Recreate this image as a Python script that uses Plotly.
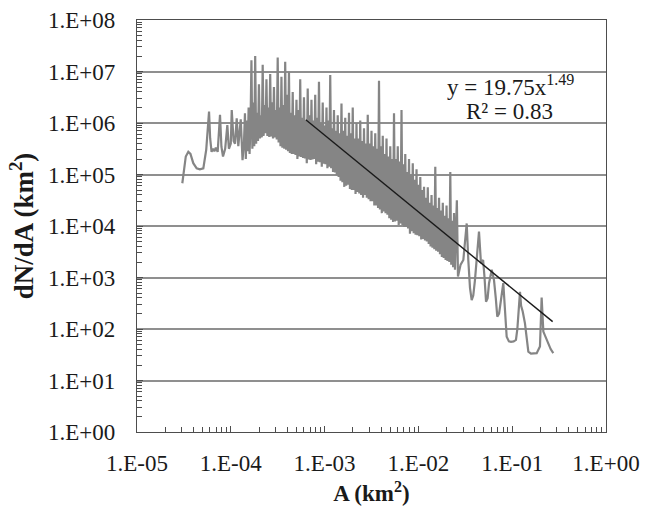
import plotly.graph_objects as go

# Values, stored as log10 exponents
log_A = [
    -4.517, -4.50, -4.48, -4.453, -4.43, -4.40, -4.364, -4.33, -4.293, -4.262,
    -4.232, -4.22, -4.205, -4.19, -4.175, -4.16, -4.14, -4.115, -4.10, -4.083,
    -4.06, -4.037, -4.02, -4.00, -3.99, -3.97, -3.955, -3.937, -3.92, -3.894,
    -3.875, -3.86, -3.849,
    -3.84, -3.83, -3.82, -3.81, -3.80, -3.79, -3.78, -3.77, -3.76, -3.75,
    -3.74, -3.73, -3.72, -3.71, -3.70, -3.69, -3.68, -3.67, -3.66, -3.65,
    -3.64, -3.63, -3.62, -3.61, -3.60, -3.59, -3.58, -3.57, -3.56, -3.55,
    -3.54, -3.53, -3.52, -3.51, -3.50, -3.49, -3.48, -3.47, -3.46, -3.45,
    -3.44, -3.43, -3.42, -3.41, -3.40, -3.39, -3.38, -3.37, -3.36, -3.35,
    -3.34, -3.33, -3.32, -3.31, -3.30, -3.29, -3.28, -3.27, -3.26, -3.25,
    -3.24, -3.23, -3.22, -3.21, -3.20, -3.19, -3.18, -3.17, -3.16, -3.15,
    -3.14, -3.13, -3.12, -3.11, -3.10, -3.09, -3.08, -3.07, -3.06, -3.05,
    -3.04, -3.03, -3.02, -3.01, -3.00, -2.99, -2.98, -2.97, -2.96, -2.95,
    -2.94, -2.93, -2.92, -2.91, -2.90, -2.89, -2.88, -2.87, -2.86, -2.85,
    -2.84, -2.83, -2.82, -2.81, -2.80, -2.79, -2.78, -2.77, -2.76, -2.75,
    -2.74, -2.73, -2.72, -2.71, -2.70, -2.69, -2.68, -2.67, -2.66, -2.65,
    -2.64, -2.63, -2.62, -2.61, -2.60, -2.59, -2.58, -2.57, -2.56, -2.55,
    -2.54, -2.53, -2.52, -2.51, -2.50, -2.49, -2.48, -2.47, -2.46, -2.45,
    -2.44, -2.43, -2.42, -2.41, -2.40, -2.39, -2.38, -2.37, -2.36, -2.35,
    -2.34, -2.33, -2.32, -2.31, -2.30, -2.29, -2.28, -2.27, -2.26, -2.25,
    -2.24, -2.23, -2.22, -2.21, -2.20, -2.19, -2.18, -2.17, -2.16, -2.15,
    -2.14, -2.13, -2.12, -2.11, -2.10, -2.09, -2.08, -2.07, -2.06, -2.05,
    -2.04, -2.03, -2.02, -2.01, -2.00, -1.99, -1.98, -1.97, -1.96, -1.95,
    -1.94, -1.93, -1.92, -1.91, -1.90, -1.89, -1.88, -1.87, -1.86, -1.85,
    -1.84, -1.83, -1.82, -1.81, -1.80, -1.79, -1.78, -1.77, -1.76, -1.75,
    -1.74, -1.73, -1.72, -1.71, -1.70, -1.69, -1.68, -1.67, -1.66, -1.65,
    -1.64, -1.63, -1.62, -1.61, -1.60, -1.59, -1.578,
    -1.55, -1.521, -1.485, -1.468, -1.45, -1.432, -1.415, -1.397, -1.378, -1.354,
    -1.333, -1.31, -1.295, -1.279, -1.262, -1.247, -1.218, -1.194, -1.175, -1.159,
    -1.14, -1.123, -1.095, -1.077, -1.059, -1.035, -1.013, -0.985, -0.960, -0.945,
    -0.935, -0.917, -0.905, -0.888, -0.864, -0.845, -0.828, -0.80, -0.77, -0.739,
    -0.704, -0.686, -0.668, -0.632, -0.590, -0.562,
]

log_dNdA = [
    4.83, 5.10, 5.35, 5.44, 5.40, 5.22, 5.12, 5.10, 5.12, 5.48,
    6.22, 5.70, 5.44, 5.50, 5.45, 5.52, 5.44, 6.16, 5.54, 5.35,
    5.50, 5.96, 5.50, 5.60, 6.25, 5.65, 5.60, 6.09, 5.55, 6.07,
    5.28, 5.60, 6.19,
    5.30, 6.05, 5.45, 6.30, 5.40, 5.95, 7.22, 5.50, 6.40, 5.55,
    7.30, 5.60, 6.20, 5.65, 6.75, 5.70, 6.15, 5.72, 7.13, 5.75,
    6.35, 5.80, 6.85, 5.75, 6.30, 5.73, 6.95, 5.74, 6.40, 5.70,
    6.70, 5.72, 6.25, 5.68, 7.27, 5.62, 6.30, 5.55, 6.90, 5.52,
    6.35, 5.50, 7.19, 5.48, 6.55, 5.45, 7.00, 5.42, 6.20, 5.40,
    6.60, 5.40, 6.15, 5.38, 6.45, 5.30, 6.25, 5.35, 6.85, 5.34,
    6.10, 5.32, 6.50, 5.31, 6.05, 5.22, 6.67, 5.29, 6.15, 5.28,
    6.45, 5.29, 6.05, 5.30, 6.55, 5.20, 6.10, 5.25, 6.80, 5.24,
    6.00, 5.15, 6.40, 5.21, 5.95, 5.20, 6.30, 5.12, 6.05, 5.15,
    6.93, 5.12, 5.90, 5.05, 6.25, 5.04, 5.85, 4.98, 6.15, 4.95,
    5.80, 4.88, 6.38, 4.85, 5.85, 4.76, 6.10, 4.78, 5.75, 4.80,
    6.20, 4.72, 5.80, 4.70, 6.30, 4.70, 5.70, 4.62, 6.00, 4.66,
    5.70, 4.63, 6.05, 4.60, 5.65, 4.55, 5.90, 4.60, 5.60, 4.55,
    6.16, 4.52, 5.60, 4.48, 5.85, 4.48, 5.55, 4.40, 5.80, 4.40,
    5.50, 4.35, 6.82, 4.32, 5.55, 4.25, 5.75, 4.28, 5.40, 4.25,
    5.70, 4.22, 5.35, 4.15, 5.55, 4.12, 5.30, 4.08, 6.19, 4.09,
    5.30, 4.10, 5.55, 4.02, 5.25, 4.05, 6.25, 4.02, 5.20, 3.98,
    5.40, 3.98, 5.05, 3.95, 5.30, 3.85, 5.00, 3.90, 5.22, 3.86,
    4.90, 3.83, 5.10, 3.82, 4.80, 3.80, 4.95, 3.74, 4.70, 3.75,
    4.76, 3.72, 4.55, 3.70, 4.75, 3.65, 4.45, 3.60, 4.60, 3.58,
    4.40, 3.55, 5.15, 3.52, 4.35, 3.50, 4.55, 3.45, 4.30, 3.40,
    4.45, 3.38, 4.20, 3.34, 4.40, 3.32, 4.15, 3.30, 5.05, 3.25,
    4.10, 3.20, 4.25, 3.15, 3.90, 4.50, 3.02,
    3.25, 3.34, 4.05, 3.34, 2.80, 2.56, 2.65, 2.95, 3.34, 3.89,
    3.28, 3.34, 3.00, 2.53, 2.60, 2.89, 3.15, 2.95, 2.60, 2.24,
    2.30, 2.50, 2.89, 2.37, 1.85, 1.76, 1.75, 1.76, 1.79, 2.00,
    2.24, 2.72, 2.45, 2.34, 2.11, 1.75, 1.56, 1.52, 1.52, 1.53,
    1.66, 2.61, 1.95, 1.79, 1.61, 1.53,
]

# Power-law fit shown on the chart
fit_coef = 19.75
fit_exp = -1.49
fit_A_range = [6.3e-4, 2.7e-1]

x_tick_vals = [1e-5, 1e-4, 1e-3, 1e-2, 1e-1, 1e0]
x_tick_text = ["1.E-05", "1.E-04", "1.E-03", "1.E-02", "1.E-01", "1.E+00"]
y_tick_vals = [1e0, 1e1, 1e2, 1e3, 1e4, 1e5, 1e6, 1e7, 1e8]
y_tick_text = ["1.E+00", "1.E+01", "1.E+02", "1.E+03", "1.E+04",
               "1.E+05", "1.E+06", "1.E+07", "1.E+08"]

A = [10 ** v for v in log_A]
dNdA = [10 ** v for v in log_dNdA]
fit_y = [fit_coef * a ** fit_exp for a in fit_A_range]

FONT = "Liberation Serif, Times New Roman, serif"

fig = go.Figure()
fig.add_trace(go.Scatter(x=A, y=dNdA, mode="lines",
                         line=dict(color="#858585", width=2.2),
                         showlegend=False))
fig.add_trace(go.Scatter(x=fit_A_range, y=fit_y, mode="lines",
                         line=dict(color="#1a1a1a", width=1.4),
                         showlegend=False))

axis_common = dict(
    type="log", showline=True, mirror=True, linecolor="#4d4d4d", linewidth=1.2,
    ticks="inside", ticklen=6, tickcolor="#4d4d4d", tickwidth=1,
    tickfont=dict(family=FONT, size=23, color="#1a1a1a"),
    minor=dict(ticks="inside", ticklen=5, tickcolor="#4d4d4d", tickwidth=1,
               dtick="D1", showgrid=False),
    zeroline=False,
)

fig.update_xaxes(**axis_common, range=[-5, 0], tickvals=x_tick_vals,
                 ticktext=x_tick_text, showgrid=False, ticklabelstandoff=10,
                 title=dict(text="<b>A (km<sup>2</sup>)</b>",
                            font=dict(family=FONT, size=23, color="#1a1a1a"),
                            standoff=10))
fig.update_yaxes(**axis_common, range=[0, 8], tickvals=y_tick_vals,
                 ticktext=y_tick_text, showgrid=True, gridcolor="#8f8f8f",
                 gridwidth=1.5, ticklabelstandoff=16,
                 title=dict(text="<b>dN/dA (km<sup>2</sup>)</b>",
                            font=dict(family=FONT, size=27, color="#1a1a1a"),
                            standoff=6))

fig.add_annotation(x=0.797, y=0.842, xref="paper", yref="paper",
                   xanchor="center", yanchor="middle",
                   text="y = 19.75x<sup>1.49</sup>", showarrow=False,
                   font=dict(family=FONT, size=23, color="#1a1a1a"))
fig.add_annotation(x=0.795, y=0.777, xref="paper", yref="paper",
                   xanchor="center", yanchor="middle",
                   text="R² = 0.83", showarrow=False,
                   font=dict(family=FONT, size=23, color="#1a1a1a"))

fig.update_layout(
    width=656, height=508,
    margin=dict(l=137, r=50, t=20, b=76, autoexpand=False),
    paper_bgcolor="white", plot_bgcolor="white",
)

fig.write_html("out.html")
